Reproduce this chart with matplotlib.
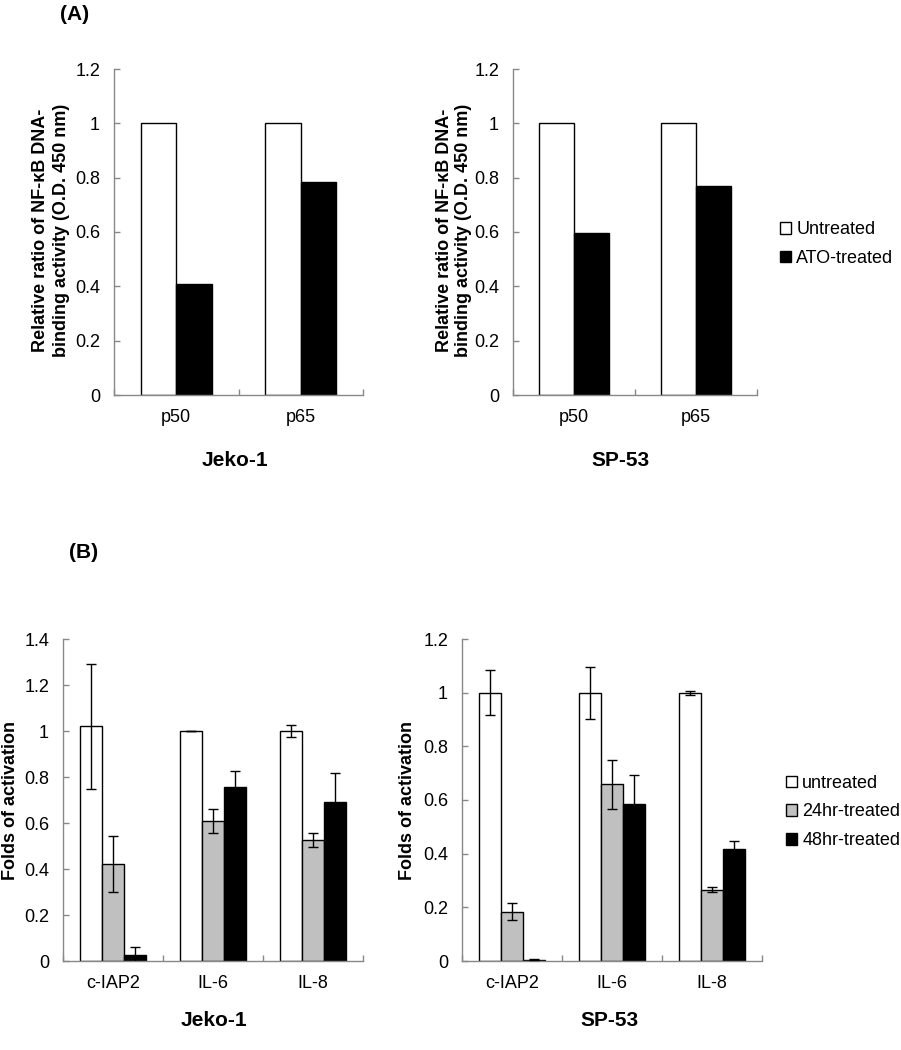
import numpy as np
import matplotlib
matplotlib.use("Agg")
import matplotlib.pyplot as plt
from matplotlib.patches import Patch
from matplotlib.ticker import FuncFormatter

plt.rcParams['font.family'] = ['Liberation Sans', 'DejaVu Sans']
plt.rcParams['xtick.labelsize'] = 13
plt.rcParams['ytick.labelsize'] = 13

# panel A data
a_cats = ["p50", "p65"]
a_series = ["Untreated", "ATO-treated"]
jeko_a = [[1.0, 1.0], [0.41, 0.784]]
sp53_a = [[1.0, 1.0], [0.596, 0.769]]

# panel B data
b_cats = ["c-IAP2", "IL-6", "IL-8"]
b_series = ["untreated", "24hr-treated", "48hr-treated"]
jeko_b = [[1.02, 1.0, 1.0], [0.422, 0.609, 0.526], [0.026, 0.755, 0.693]]
jeko_b_err = [[0.27, 0.002, 0.025], [0.12, 0.053, 0.029], [0.036, 0.072, 0.126]]
sp53_b = [[1.0, 1.0, 1.0], [0.184, 0.658, 0.265], [0.004, 0.585, 0.417]]
sp53_b_err = [[0.085, 0.097, 0.007], [0.031, 0.092, 0.009], [0.002, 0.108, 0.031]]

a_colors = ["white", "black"]
b_colors = ["white", "#c0c0c0", "black"]

W, H = 901, 1050
fig = plt.figure(figsize=(W / 100, H / 100), dpi=100)


def px_axes(x0, y0, x1, y1):
    return fig.add_axes([x0 / W, 1 - y1 / H, (x1 - x0) / W, (y1 - y0) / H])


def fmt(v, pos):
    return "%g" % round(v, 2)


def bars(ax, cats, vals, colors, errs=None, ymax=1.2, step=0.2):
    n = len(vals)
    w = 1.0 / (n + 1.5)
    centers = np.arange(len(cats)) + 0.5
    for i, v in enumerate(vals):
        x = centers + (i - (n - 1) / 2) * w
        ax.bar(x, v, w, color=colors[i], edgecolor="black", linewidth=1.0, zorder=2)
        if errs is not None:
            ax.errorbar(x, v, yerr=errs[i], fmt="none", ecolor="black",
                        elinewidth=1.0, capsize=3.5, capthick=1.0, zorder=3)
    ax.set_xlim(0, len(cats))
    ax.set_ylim(0, ymax)
    ax.set_yticks(np.arange(0, ymax + 0.001, step))
    ax.yaxis.set_major_formatter(FuncFormatter(fmt))
    ax.set_xticks(np.arange(0, len(cats) + 1))
    ax.set_xticklabels([])
    ax.set_xticks(centers, minor=True)
    ax.set_xticklabels(cats, minor=True, fontsize=13)
    for s in ["top", "right"]:
        ax.spines[s].set_visible(False)
    for s in ["left", "bottom"]:
        ax.spines[s].set_color("#888888")
        ax.spines[s].set_linewidth(1.0)
    ax.tick_params(axis="both", which="major", direction="in", length=4,
                   color="#888888", width=1.0, labelsize=13)
    ax.tick_params(axis="y", which="major", pad=10)
    ax.tick_params(axis="x", which="minor", length=0, labelsize=13, pad=10)


ax1 = px_axes(114, 69, 363, 395)
bars(ax1, a_cats, jeko_a, a_colors)
ax2 = px_axes(513, 69, 757, 395)
bars(ax2, a_cats, sp53_a, a_colors)

ax3 = px_axes(63, 639, 363, 961)
bars(ax3, b_cats, jeko_b, b_colors, jeko_b_err, ymax=1.4)
ax4 = px_axes(462, 639, 762, 961)
bars(ax4, b_cats, sp53_b, b_colors, sp53_b_err, ymax=1.2)

ylab_a = "Relative ratio of NF-\u03baB DNA-\nbinding activity (O.D. 450 nm)"
fig.text(51 / W, 1 - 230 / H, ylab_a, rotation=90, ha="center", va="center",
         fontsize=13, fontweight="bold", linespacing=1.3)
fig.text(454 / W, 1 - 230 / H, ylab_a, rotation=90, ha="center", va="center",
         fontsize=13, fontweight="bold", linespacing=1.1)
fig.text(11 / W, 1 - 800 / H, "Folds of activation", rotation=90, ha="center",
         va="center", fontsize=13, fontweight="bold")
fig.text(408 / W, 1 - 800 / H, "Folds of activation", rotation=90, ha="center",
         va="center", fontsize=13, fontweight="bold")

fig.text(75 / W, 1 - 14 / H, "(A)", ha="center", va="center", fontsize=15, fontweight="bold")
fig.text(84 / W, 1 - 552 / H, "(B)", ha="center", va="center", fontsize=15, fontweight="bold")

for x, y, t in [(235, 460, "Jeko-1"), (620, 460, "SP-53"),
                (214, 1021, "Jeko-1"), (609, 1021, "SP-53")]:
    fig.text(x / W, 1 - y / H, t, ha="center", va="center", fontsize=15, fontweight="bold")

h_a = [Patch(facecolor=c, edgecolor="black", linewidth=1.0) for c in a_colors]
fig.legend(h_a, a_series, loc="center left", bbox_to_anchor=(780 / W, 1 - 244 / H),
           frameon=False, fontsize=13, handlelength=0.6, handleheight=0.6,
           handletextpad=0.3, labelspacing=0.65, borderpad=0, borderaxespad=0)

h_b = [Patch(facecolor=c, edgecolor="black", linewidth=1.0) for c in b_colors]
fig.legend(h_b, b_series, loc="center left", bbox_to_anchor=(786 / W, 1 - 812 / H),
           frameon=False, fontsize=13, handlelength=0.6, handleheight=0.6,
           handletextpad=0.3, labelspacing=0.65, borderpad=0, borderaxespad=0)

fig.savefig("out.png", dpi=100)
